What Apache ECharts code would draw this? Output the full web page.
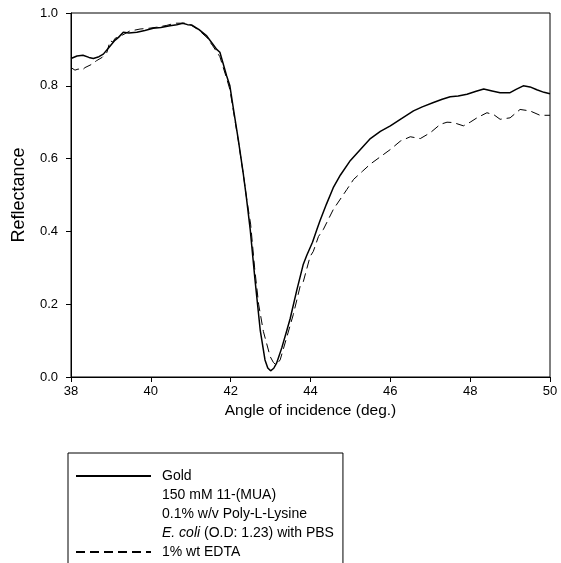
<!DOCTYPE html>
<html>
<head>
<meta charset="utf-8">
<script src="https://cdn.jsdelivr.net/npm/echarts@6/dist/echarts.min.js"></script>
<style>
html,body{margin:0;padding:0;background:#fff;}
#chart{width:561px;height:563px;}
</style>
</head>
<body>
<div id="chart"></div>
<script>
// Angle of incidence (deg.) and reflectance values
var goldX = [38.0,38.15,38.3,38.45,38.56,38.7,38.81,38.95,39.1,39.19,39.31,39.45,39.65,39.85,40.06,40.25,40.48,40.65,40.8,40.92,41.02,41.2,41.4,41.55,41.65,41.73,41.9,41.98,42.07,42.19,42.32,42.39,42.49,42.61,42.74,42.86,42.93,43.0,43.08,43.15,43.28,43.41,43.49,43.66,43.82,43.91,44.05,44.16,44.24,44.4,44.57,44.75,45.0,45.25,45.5,45.75,46.0,46.25,46.58,46.8,47.08,47.3,47.5,47.7,47.92,48.15,48.34,48.55,48.75,49.0,49.15,49.33,49.5,49.67,49.85,50.0];
var goldY = [0.875,0.882,0.884,0.878,0.875,0.88,0.887,0.905,0.925,0.933,0.947,0.945,0.947,0.952,0.958,0.96,0.965,0.968,0.972,0.968,0.967,0.955,0.937,0.915,0.9,0.892,0.827,0.8,0.736,0.653,0.555,0.497,0.405,0.267,0.129,0.047,0.025,0.017,0.024,0.038,0.08,0.129,0.16,0.24,0.31,0.335,0.37,0.405,0.43,0.475,0.52,0.555,0.595,0.625,0.655,0.675,0.69,0.708,0.731,0.742,0.754,0.763,0.77,0.772,0.777,0.785,0.791,0.786,0.781,0.781,0.79,0.8,0.797,0.789,0.782,0.778];

var edtaX = [38.0,38.1,38.18,38.28,38.35,38.5,38.64,38.78,38.9,38.98,39.05,39.1,39.3,39.48,39.6,39.73,39.95,40.15,40.4,40.6,40.9,41.02,41.2,41.4,41.55,41.73,41.9,41.98,42.07,42.19,42.32,42.4,42.5,42.6,42.7,42.82,42.99,43.07,43.14,43.24,43.41,43.57,43.74,43.82,43.99,44.07,44.2,44.32,44.57,44.91,45.08,45.3,45.5,45.75,46.0,46.25,46.5,46.75,47.0,47.25,47.42,47.58,47.83,48.0,48.17,48.42,48.6,48.75,49.0,49.25,49.5,49.75,50.0];
var edtaY = [0.85,0.843,0.846,0.843,0.85,0.858,0.869,0.878,0.892,0.924,0.92,0.93,0.94,0.951,0.953,0.956,0.958,0.961,0.966,0.972,0.972,0.966,0.953,0.933,0.91,0.88,0.82,0.79,0.73,0.65,0.555,0.49,0.42,0.3,0.2,0.125,0.056,0.04,0.033,0.047,0.111,0.172,0.249,0.262,0.331,0.345,0.386,0.405,0.46,0.515,0.543,0.565,0.585,0.605,0.625,0.648,0.66,0.655,0.671,0.694,0.7,0.699,0.69,0.7,0.712,0.726,0.72,0.708,0.712,0.735,0.731,0.719,0.719];

var legendNames = ['Gold','150 mM 11-(MUA)','0.1% w/v Poly-L-Lysine','E. coli (O.D: 1.23) with PBS','1% wt EDTA'];
var xTicks = {min:38, max:50, interval:2};
var yTicks = {min:0, max:1, interval:0.2};

function pairs(xs, ys){ return xs.map(function(x,i){ return [x, ys[i]]; }); }

var font = 'Liberation Sans, Arial, sans-serif';
var chart = echarts.init(document.getElementById('chart'), null, {renderer:'canvas'});

var blank = {color:'#000', opacity:0};
var series = [
  {name: legendNames[0], type:'line', data: pairs(goldX, goldY), symbol:'none', smooth:false,
   itemStyle:{color:'#000'}, lineStyle:{color:'#000', width:1.5, type:'solid'}, z:3},
  {name: legendNames[1], type:'line', data: [], symbol:'none', itemStyle:{color:'#000'}, lineStyle:blank},
  {name: legendNames[2], type:'line', data: [], symbol:'none', itemStyle:{color:'#000'}, lineStyle:blank},
  {name: legendNames[3], type:'line', data: [], symbol:'none', itemStyle:{color:'#000'}, lineStyle:blank},
  {name: legendNames[4], type:'line', data: pairs(edtaX, edtaY), symbol:'none', smooth:false,
   itemStyle:{color:'#000'}, lineStyle:{color:'#000', width:1, type:[9,5]}, z:2}
];

chart.setOption({
  animation:false,
  backgroundColor:'#fff',
  grid:{left:71, right:11, top:13, bottom:186, show:true, borderColor:'#000', borderWidth:1},
  xAxis:{
    type:'value', min:xTicks.min, max:xTicks.max, interval:xTicks.interval,
    name:'Angle of incidence (deg.)', nameLocation:'middle', nameGap:19,
    nameTextStyle:{fontFamily:font, fontSize:15.5, color:'#000'},
    axisLine:{show:true, lineStyle:{color:'#000', width:1}},
    axisTick:{show:true, length:5, lineStyle:{color:'#000'}},
    axisLabel:{fontFamily:font, fontSize:13, color:'#000', margin:8},
    splitLine:{show:false}
  },
  yAxis:{
    type:'value', min:yTicks.min, max:yTicks.max, interval:yTicks.interval,
    name:'Reflectance', nameLocation:'middle', nameGap:43, nameRotate:90,
    nameTextStyle:{fontFamily:font, fontSize:18, color:'#000'},
    axisLine:{show:true, lineStyle:{color:'#000', width:1}},
    axisTick:{show:true, length:5, lineStyle:{color:'#000'}},
    axisLabel:{fontFamily:font, fontSize:13, color:'#000', margin:13,
      formatter:function(v){ return v.toFixed(1); }},
    splitLine:{show:false}
  },
  legend:{
    type:'plain', orient:'vertical', left:68, top:453, height:200,
    padding:[16, 9, 25, 7],
    itemWidth:75, itemHeight:14, itemGap:5,
    borderColor:'#000', borderWidth:1, backgroundColor:'#fff',
    selectedMode:false,
    itemStyle:{opacity:0},
    data: legendNames,
    textStyle:{fontFamily:font, fontSize:14, color:'#000', padding:[0,0,0,6],
      rich:{i:{fontStyle:'italic', fontFamily:font, fontSize:14, color:'#000'}}},
    formatter:function(name){
      if (name.indexOf('E. coli') === 0) { return '{i|E. coli}' + name.slice(7); }
      return name;
    }
  },
  series: series
});
</script>
</body>
</html>
